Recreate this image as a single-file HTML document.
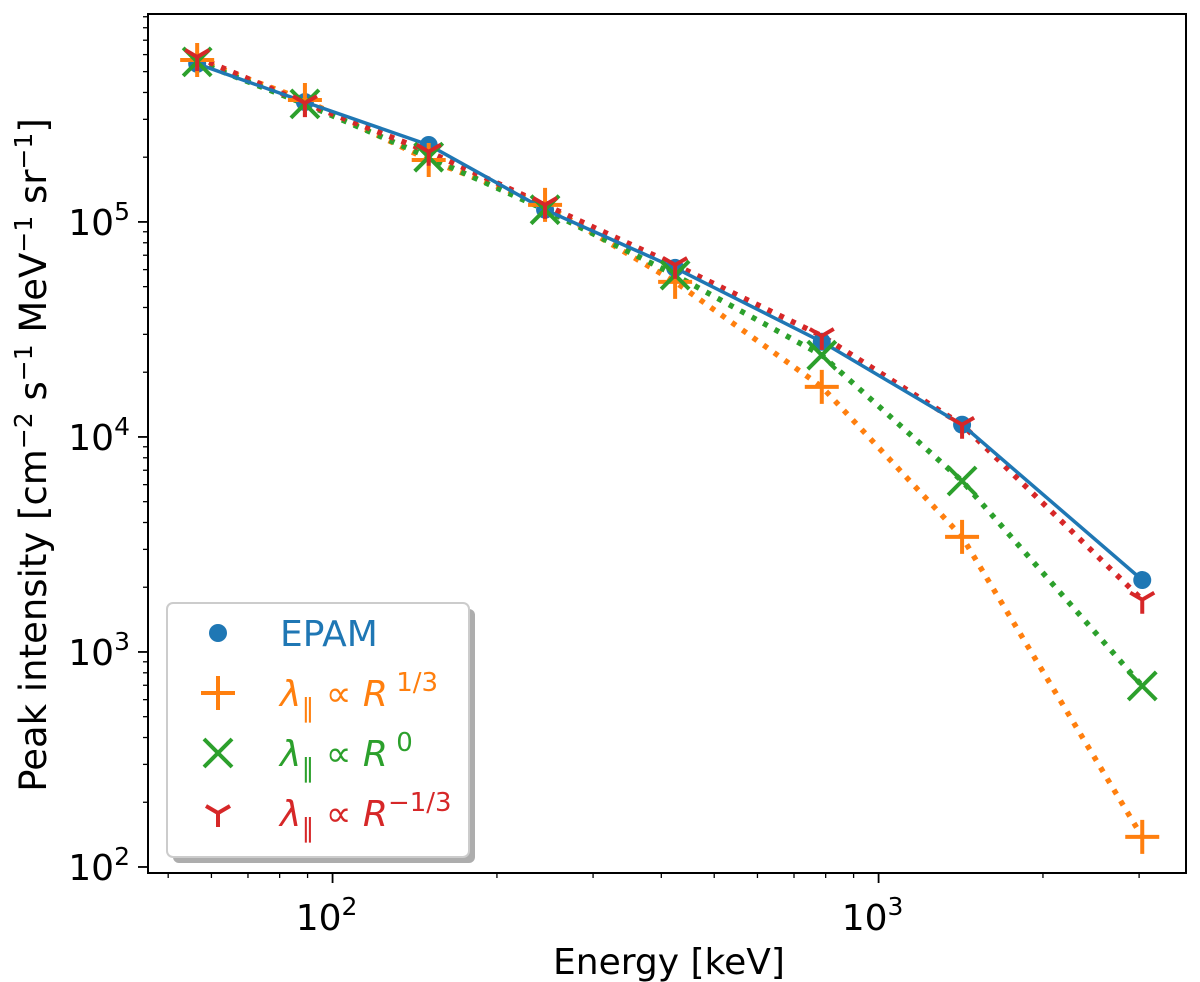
<!DOCTYPE html>
<html><head><meta charset="utf-8"><style>
html,body{margin:0;padding:0;background:#fff;}
svg{display:block;font-family:"DejaVu Sans","Liberation Sans",sans-serif;}
</style></head><body>
<svg id="chart" width="1200" height="982" viewBox="0 0 1200 982" xmlns="http://www.w3.org/2000/svg">
<g id="grid"></g>
<g id="series"></g>
<rect x="148" y="14" width="1038" height="859" fill="none" stroke="#000" stroke-width="2"/>
<g id="ticks"></g>
<text x="669" y="974" font-size="36" text-anchor="middle">Energy [keV]</text>
<text transform="translate(46,455) rotate(-90)" font-size="37" text-anchor="middle">Peak intensity [cm<tspan dy="-14" font-size="25">−2</tspan><tspan dy="14"> s</tspan><tspan dy="-14" font-size="25">−1</tspan><tspan dy="14"> MeV</tspan><tspan dy="-14" font-size="25">−1</tspan><tspan dy="14"> sr</tspan><tspan dy="-14" font-size="25">−1</tspan><tspan dy="14">]</tspan></text>
<g>
<rect x="173" y="609" width="302" height="254" rx="6" fill="#999" opacity="0.8"/>
<rect x="167" y="603" width="302" height="254" rx="6" fill="#fff" stroke="#ccc" stroke-width="2"/>
<g id="legend-items"></g>
</g>
</svg>
<script>
const energies = [56.5, 89, 150, 245, 424, 787, 1422, 3040];
const epam = [5.44e5, 3.61e5, 2.28e5, 1.14e5, 6.11e4, 2.77e4, 1.14e4, 2.16e3];
const r13 = [5.66e5, 3.69e5, 1.94e5, 1.20e5, 5.26e4, 1.71e4, 3.43e3, 138];
const r0 = [5.55e5, 3.54e5, 2.00e5, 1.14e5, 5.66e4, 2.40e4, 6.24e3, 695];
const rm13 = [5.85e5, 3.57e5, 2.12e5, 1.20e5, 6.31e4, 2.95e4, 1.14e4, 1.75e3];
const xTickVals = [100, 1000];
const xTickLabels = ["2", "3"];
const yTickVals = [1e2, 1e3, 1e4, 1e5];
const yTickLabels = ["2", "3", "4", "5"];

const X0=148, X1=1186, Y0=873, Y1=14;
const xLmin=1.662, xLmax=3.563, yLmin=1.972, yLmax=5.967;
const xs = v => X0 + (Math.log10(v)-xLmin)/(xLmax-xLmin)*(X1-X0);
const ys = v => Y0 - (Math.log10(v)-yLmin)/(yLmax-yLmin)*(Y0-Y1);
const NS="http://www.w3.org/2000/svg";
function mk(tag, attrs, parent){const e=document.createElementNS(NS,tag);for(const k in attrs)e.setAttribute(k,attrs[k]);parent.appendChild(e);return e;}

const ticks=document.getElementById('ticks');
for(let d=10;d<=1000;d*=10){for(let m=1;m<10;m++){const v=d*m;const x=xs(v);if(x<X0||x>X1)continue;const major=m===1;
const t=mk('line',{x1:x,x2:x,y1:Y0,y2:Y0+(major?10:5),stroke:'#000','stroke-width':major?1.8:1.3},ticks);

}}
xTickVals.forEach((v,i)=>{const t=mk('text',{x:xs(v)-6,y:930,'font-size':36,'text-anchor':'middle'},ticks);


t.innerHTML='10<tspan dy="-15" font-size="25">'+xTickLabels[i]+'</tspan>';});
for(let d=10;d<=1e6;d*=10){for(let m=1;m<10;m++){const v=d*m;const y=ys(v);if(y<Y1||y>Y0)continue;const major=m===1;
const t=mk('line',{x1:X0-(major?10:5),x2:X0,y1:y,y2:y,stroke:'#000','stroke-width':major?1.8:1.3},ticks);

}}
yTickVals.forEach((v,i)=>{const t=mk('text',{x:130,y:ys(v)+13,'font-size':36,'text-anchor':'end'},ticks);


t.innerHTML='10<tspan dy="-15" font-size="25">'+yTickLabels[i]+'</tspan>';});

const ser=document.getElementById('series');
function path(vals,color,dotted,name){const d=vals.map((v,i)=>(i?'L':'M')+xs(energies[i]).toFixed(1)+','+ys(v).toFixed(1)).join(' ');
const p=mk('path',{d:d,fill:'none',stroke:color,'stroke-width':dotted?5.5:3.5,'stroke-dasharray':dotted?'5,8':'none','stroke-linecap':dotted?'butt':'round'},ser);

}
function marker(type,x,y,color,g){
 if(type==='o'){mk('circle',{cx:x,cy:y,r:9,fill:color},g);}
 else if(type==='+'){mk('path',{d:`M${x-17},${y}H${x+17}M${x},${y-17}V${y+17}`,stroke:color,'stroke-width':4,fill:'none'},g);}
 else if(type==='x'){mk('path',{d:`M${x-14},${y-14}L${x+14},${y+14}M${x-14},${y+14}L${x+14},${y-14}`,stroke:color,'stroke-width':4,fill:'none'},g);}
 else {mk('path',{d:`M${x},${y}V${y+14}M${x},${y}L${x-12},${y-7}M${x},${y}L${x+12},${y-7}`,stroke:color,'stroke-width':4,fill:'none'},g);}
}
function pts(vals,type,color,name){const g=mk('g',{},ser);


vals.forEach((v,i)=>marker(type,xs(energies[i]),ys(v),color,g));}
path(r13,'#ff7f0e',true,'line-r-1-3');
path(r0,'#2ca02c',true,'line-r-0');
path(rm13,'#d62728',true,'line-r-minus-1-3');
path(epam,'#1f77b4',false,'line-epam');
pts(epam,'o','#1f77b4','points-epam');
pts(r13,'+','#ff7f0e','points-r-1-3');
pts(r0,'x','#2ca02c','points-r-0');
pts(rm13,'y','#d62728','points-r-minus-1-3');

const lg=document.getElementById('legend-items');
const items=[['o','#1f77b4','EPAM'],['+','#ff7f0e','<tspan font-style="italic">λ</tspan><tspan dy="11" font-size="26">∥</tspan><tspan dy="-11"> ∝ </tspan><tspan font-style="italic">R</tspan><tspan dy="-15" font-size="26"> 1/3</tspan>'],
['x','#2ca02c','<tspan font-style="italic">λ</tspan><tspan dy="11" font-size="26">∥</tspan><tspan dy="-11"> ∝ </tspan><tspan font-style="italic">R</tspan><tspan dy="-15" font-size="26"> 0</tspan>'],
['y','#d62728','<tspan font-style="italic">λ</tspan><tspan dy="11" font-size="26">∥</tspan><tspan dy="-11"> ∝ </tspan><tspan font-style="italic">R</tspan><tspan dy="-15" font-size="26">−1/3</tspan>']];
const lgNames=['legend-entry-epam','legend-entry-r-1-3','legend-entry-r-0','legend-entry-r-minus-1-3'];
items.forEach((it,i)=>{const y=633+i*60;const g=mk('g',{},lg);


marker(it[0],218,y,it[1],g);
const t=mk('text',{x:280,y:y+13,'font-size':36,fill:it[1]},g);t.innerHTML=it[2];});
</script>
</body></html>
